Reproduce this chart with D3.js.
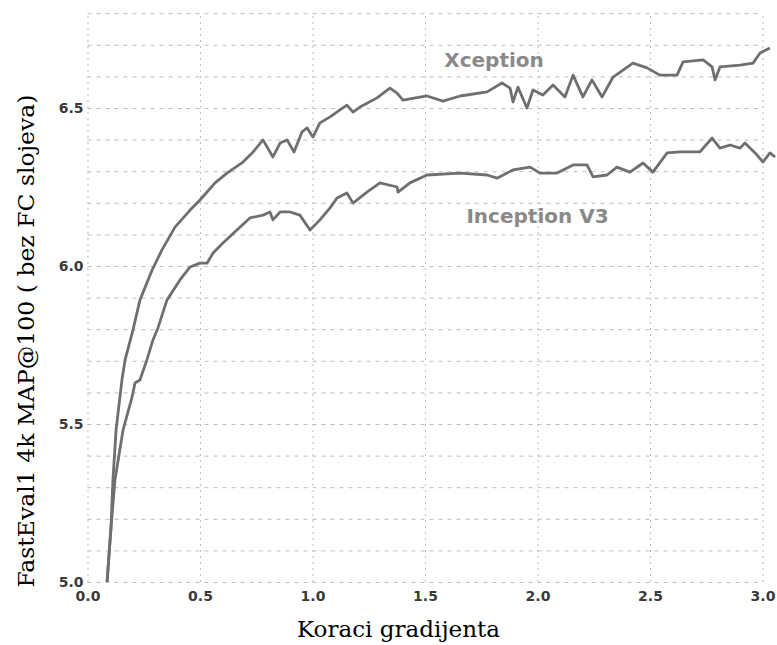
<!DOCTYPE html>
<html>
<head>
<meta charset="utf-8">
<script src="https://cdn.jsdelivr.net/npm/d3@7"></script>
<style>
  body { margin: 0; background: #fff; }
</style>
</head>
<body>
<script>
// values
const xceptionSteps = [0.087, 0.104, 0.113, 0.127, 0.153, 0.167, 0.202, 0.233, 0.287, 0.331, 0.389, 0.456, 0.500, 0.567, 0.620, 0.691, 0.736, 0.780, 0.824, 0.856, 0.887, 0.918, 0.953, 0.976, 1.002, 1.033, 1.078, 1.122, 1.153, 1.180, 1.211, 1.287, 1.344, 1.376, 1.402, 1.509, 1.580, 1.656, 1.776, 1.842, 1.878, 1.891, 1.913, 1.953, 1.980, 2.024, 2.069, 2.122, 2.158, 2.202, 2.242, 2.287, 2.336, 2.380, 2.424, 2.487, 2.544, 2.620, 2.647, 2.736, 2.776, 2.789, 2.811, 2.900, 2.958, 2.989, 3.033]
const xceptionMap = [5.000, 5.165, 5.323, 5.481, 5.639, 5.703, 5.797, 5.892, 5.987, 6.051, 6.123, 6.177, 6.209, 6.263, 6.294, 6.329, 6.361, 6.399, 6.345, 6.389, 6.399, 6.361, 6.424, 6.437, 6.408, 6.453, 6.472, 6.494, 6.509, 6.487, 6.503, 6.532, 6.563, 6.547, 6.525, 6.538, 6.522, 6.538, 6.551, 6.579, 6.563, 6.519, 6.566, 6.500, 6.557, 6.541, 6.573, 6.535, 6.604, 6.535, 6.589, 6.535, 6.598, 6.620, 6.642, 6.627, 6.604, 6.604, 6.646, 6.652, 6.630, 6.589, 6.630, 6.636, 6.642, 6.674, 6.690]

const inceptionSteps = [0.087, 0.100, 0.122, 0.158, 0.198, 0.211, 0.233, 0.264, 0.291, 0.313, 0.353, 0.411, 0.456, 0.500, 0.531, 0.558, 0.602, 0.664, 0.722, 0.780, 0.811, 0.824, 0.856, 0.900, 0.944, 0.989, 1.033, 1.078, 1.109, 1.153, 1.180, 1.242, 1.300, 1.376, 1.380, 1.433, 1.509, 1.656, 1.776, 1.820, 1.891, 1.967, 2.011, 2.087, 2.158, 2.220, 2.247, 2.309, 2.353, 2.411, 2.469, 2.513, 2.576, 2.633, 2.722, 2.776, 2.811, 2.856, 2.900, 2.922, 2.976, 3.002, 3.033, 3.056]
const inceptionMap = [5.000, 5.133, 5.323, 5.481, 5.585, 5.630, 5.639, 5.703, 5.766, 5.804, 5.892, 5.956, 5.997, 6.009, 6.009, 6.041, 6.073, 6.114, 6.152, 6.161, 6.171, 6.146, 6.171, 6.171, 6.161, 6.114, 6.146, 6.184, 6.215, 6.231, 6.199, 6.234, 6.263, 6.250, 6.234, 6.263, 6.288, 6.294, 6.288, 6.278, 6.304, 6.313, 6.294, 6.294, 6.320, 6.320, 6.282, 6.288, 6.313, 6.297, 6.326, 6.297, 6.358, 6.361, 6.361, 6.405, 6.373, 6.383, 6.373, 6.389, 6.351, 6.329, 6.358, 6.345]

const seriesNames = ['Xception', 'Inception V3']
const yLabels = [5.0, 5.5, 6.0, 6.5]
const xLabels = [0.0, 0.5, 1.0, 1.5, 2.0, 2.5, 3.0]
const yGrid = d3.range(50, 69).map(d => d / 10)

const W = 777, H = 645
const mLeft = 87.5, mRight = 762.5, mTop = 13.2, mBottom = 582

const svg = d3.select('body').append('svg')
    .attr('width', W).attr('height', H)
    .attr('xmlns', 'http://www.w3.org/2000/svg')

const x = d3.scaleLinear().domain([0, 3]).range([mLeft, mRight])
const y = d3.scaleLinear().domain([5, 6.8]).range([mBottom, mTop])

// horizontal grid, every 0.1
const hg = svg.append('g')
    .attr('transform', `translate(${mLeft},0)`)
    .call(d3.axisLeft(y).tickValues(yGrid).tickSize(-(mRight - mLeft)).tickFormat(''))
hg.select('.domain').remove()
hg.selectAll('line')
    .attr('stroke', '#bdbdbd')
    .attr('stroke-width', 1)
    .attr('stroke-dasharray', '4,5')

// vertical grid, every 0.5
const vg = svg.append('g')
    .attr('transform', `translate(0,${mBottom})`)
    .call(d3.axisBottom(x).tickValues(xLabels).tickSize(-(mBottom - mTop)).tickFormat(''))
vg.select('.domain').remove()
vg.selectAll('line')
    .attr('stroke', '#bdbdbd')
    .attr('stroke-width', 1)
    .attr('stroke-dasharray', '2,4')

// tick labels
const ya = svg.append('g')
    .attr('transform', `translate(${mLeft},0)`)
    .call(d3.axisLeft(y).tickValues(yLabels).tickSize(0).tickPadding(4).tickFormat(d3.format('.1f')))
ya.select('.domain').remove()
ya.selectAll('text')
    .attr('font-family', 'DejaVu Sans').attr('font-weight', 'bold')
    .attr('font-size', 14).attr('fill', '#3a3a3a')

const xa = svg.append('g')
    .attr('transform', `translate(0,${mBottom})`)
    .call(d3.axisBottom(x).tickValues(xLabels).tickSize(0).tickPadding(9).tickFormat(d3.format('.1f')))
xa.select('.domain').remove()
xa.selectAll('text')
    .attr('font-family', 'DejaVu Sans').attr('font-weight', 'bold')
    .attr('font-size', 14).attr('fill', '#3a3a3a')

// curves
const line = d3.line().x(d => x(d[0])).y(d => y(d[1]))
const curves = [
    d3.zip(xceptionSteps, xceptionMap),
    d3.zip(inceptionSteps, inceptionMap)
]
svg.selectAll('path.curve')
    .data(curves)
    .enter()
    .append('path')
    .attr('class', 'curve')
    .attr('d', line)
    .attr('fill', 'none')
    .attr('stroke', '#6f6f6f')
    .attr('stroke-width', 2.8)
    .attr('stroke-linejoin', 'round')

// series names placed next to their curves
const namePos = [[1.807, 6.630], [2.0, 6.136]]
svg.selectAll('text.name')
    .data(seriesNames)
    .enter()
    .append('text')
    .attr('class', 'name')
    .attr('x', (d, i) => x(namePos[i][0]))
    .attr('y', (d, i) => y(namePos[i][1]))
    .attr('text-anchor', 'middle')
    .attr('font-family', 'DejaVu Sans').attr('font-weight', 'bold')
    .attr('font-size', 20).attr('fill', '#8a8a8a')
    .text(d => d)

// axis titles
svg.append('text')
    .attr('x', 398.5).attr('y', 637)
    .attr('text-anchor', 'middle')
    .attr('font-family', 'DejaVu Serif').attr('font-size', 23)
    .attr('textLength', 203).attr('lengthAdjust', 'spacingAndGlyphs')
    .text('Koraci gradijenta')

svg.append('text')
    .attr('transform', 'translate(34,341) rotate(-90)')
    .attr('text-anchor', 'middle')
    .attr('font-family', 'DejaVu Serif').attr('font-size', 23)
    .attr('textLength', 493).attr('lengthAdjust', 'spacingAndGlyphs')
    .text('FastEval1 4k MAP@100 ( bez FC slojeva)')
</script>
</body>
</html>
